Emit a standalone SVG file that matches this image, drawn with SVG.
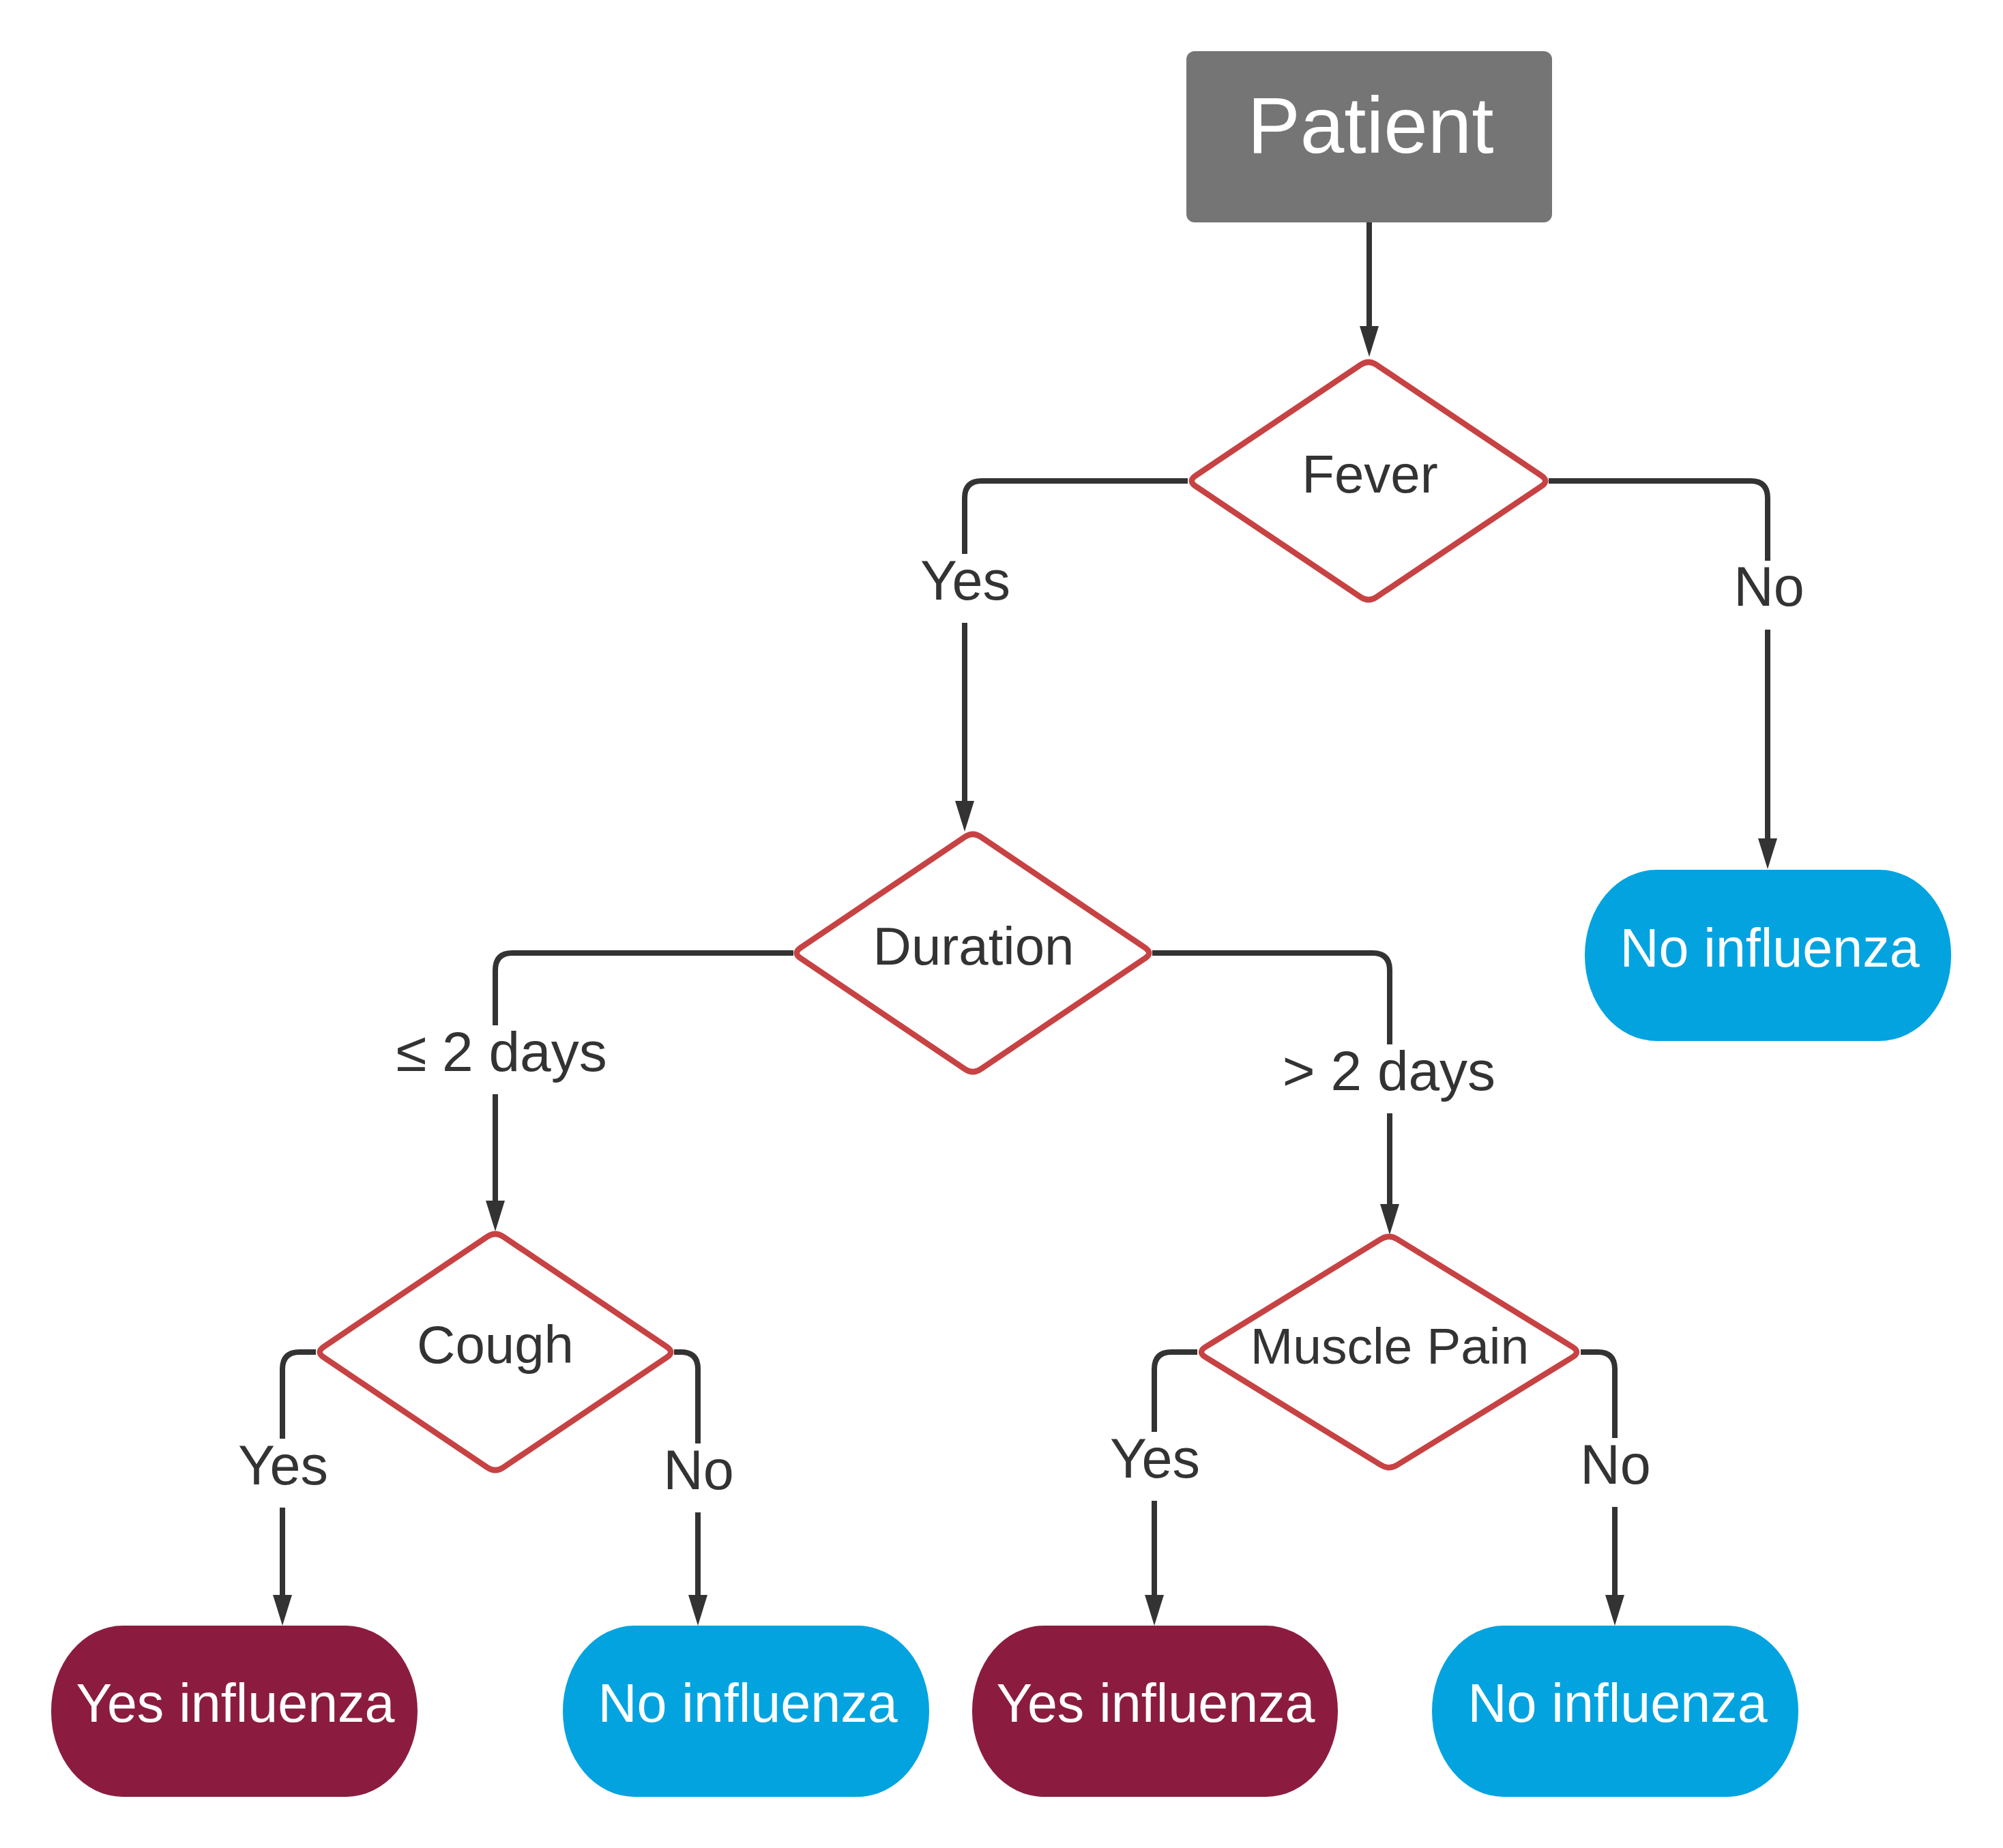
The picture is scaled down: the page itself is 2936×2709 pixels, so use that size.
<svg xmlns="http://www.w3.org/2000/svg" width="2936" height="2709" viewBox="0 0 2936 2709">
<style>
text{font-family:"Liberation Sans",Arial,sans-serif;text-anchor:middle}
.conn{fill:none;stroke:#333333;stroke-width:8;marker-end:url(#arrow)}
.lbl{font-size:81px;fill:#333333}
.bg{fill:#ffffff}
.dia{fill:#ffffff;stroke:#c74243;stroke-width:8.5;stroke-linejoin:round}
.dtxt{font-size:78px;fill:#333333}
.term{font-size:79px;fill:#ffffff}
.no{fill:#03a3e0}
.yes{fill:#8b1c40}
</style>
<defs>
<marker id="arrow" viewBox="0 -15 46 30" refX="5" refY="0" markerWidth="46" markerHeight="30" markerUnits="userSpaceOnUse" orient="auto">
<path d="M0,-14 L45,0 L0,14 Z" fill="#333333"/>
</marker>
</defs>
<rect width="2936" height="2709" fill="#ffffff"/>
<g id="connectors">
<path class="conn" d="M2007 326 V483"/>
<path class="conn" d="M1741 705 H1439 Q1414 705 1414 730 V1179"/>
<path class="conn" d="M2270 705 H2566 Q2591 705 2591 730 V1234"/>
<path class="conn" d="M1163 1397 H751 Q726 1397 726 1422 V1765"/>
<path class="conn" d="M1689 1397 H2012 Q2037 1397 2037 1422 V1770"/>
<path class="conn" d="M463 1982 H439 Q414 1982 414 2007 V2343"/>
<path class="conn" d="M988 1982 H998 Q1023 1982 1023 2007 V2343"/>
<path class="conn" d="M1755 1982 H1717 Q1692 1982 1692 2007 V2343"/>
<path class="conn" d="M2317 1982 H2342 Q2367 1982 2367 2007 V2343"/>
<rect class="bg" x="1340" y="812" width="150" height="101"/>
<text class="lbl" x="1415" y="879">Yes</text>
<rect class="bg" x="2530" y="822" width="124" height="101"/>
<text class="lbl" x="2593" y="888">No</text>
<rect class="bg" x="570" y="1503" width="330" height="101"/>
<text class="lbl" x="735" y="1570" style="font-size:82px">≤ 2 days</text>
<rect class="bg" x="1870" y="1531" width="334" height="101"/>
<text class="lbl" x="2036" y="1598" style="font-size:82px">&gt; 2 days</text>
<rect class="bg" x="340" y="2109" width="150" height="101"/>
<text class="lbl" x="415" y="2176">Yes</text>
<rect class="bg" x="962" y="2116" width="124" height="101"/>
<text class="lbl" x="1024" y="2183">No</text>
<rect class="bg" x="1617" y="2099" width="150" height="101"/>
<text class="lbl" x="1693" y="2166">Yes</text>
<rect class="bg" x="2306" y="2108" width="124" height="101"/>
<text class="lbl" x="2368" y="2175">No</text>
</g>
<g id="patient">
<rect x="1739" y="75" width="536" height="251" rx="12" ry="12" fill="#757575"/>
<text x="2009" y="224" font-size="116" fill="#ffffff">Patient</text>
</g>
<g id="fever">
<path class="dia" d="M1994.4 534.8 Q2006 527 2017.6 534.8 L2259.4 697.2 Q2271 705 2259.4 712.8 L2017.6 875.2 Q2006 883 1994.4 875.2 L1752.6 712.8 Q1741 705 1752.6 697.2 Z"/>
<text class="dtxt" x="2008" y="722">Fever</text>
</g>
<g id="duration">
<path class="dia" d="M1414.4 1226.8 Q1426 1219 1437.6 1226.8 L1678.4 1389.2 Q1690 1397 1678.4 1404.8 L1437.6 1567.2 Q1426 1575 1414.4 1567.2 L1173.6 1404.8 Q1162 1397 1173.6 1389.2 Z"/>
<text class="dtxt" x="1427" y="1414">Duration</text>
</g>
<g id="cough">
<path class="dia" d="M714.4 1812.8 Q726 1805 737.6 1812.8 L977.4 1974.2 Q989 1982 977.4 1989.8 L737.6 2151.2 Q726 2159 714.4 2151.2 L474.6 1989.8 Q463 1982 474.6 1974.2 Z"/>
<text class="dtxt" x="726" y="1998">Cough</text>
</g>
<g id="muscle-pain">
<path class="dia" d="M2024 1816.5 Q2036 1809 2048 1816.5 L2305 1974.5 Q2317 1982 2305 1989.5 L2048 2147.5 Q2036 2155 2024 2147.5 L1767 1989.5 Q1755 1982 1767 1974.5 Z"/>
<text class="dtxt" x="2037" y="1999" style="font-size:75px">Muscle Pain</text>
</g>
<g id="no-influenza-fever">
<rect class="no" x="2323" y="1275" width="537" height="251" rx="105" ry="125"/>
<text class="term" x="2594" y="1417">No influenza</text>
</g>
<g id="yes-influenza-cough">
<rect class="yes" x="75" y="2383" width="537" height="251" rx="105" ry="125"/>
<text class="term" x="345" y="2524">Yes influenza</text>
</g>
<g id="no-influenza-cough">
<rect class="no" x="825" y="2383" width="537" height="251" rx="105" ry="125"/>
<text class="term" x="1096" y="2524">No influenza</text>
</g>
<g id="yes-influenza-muscle">
<rect class="yes" x="1425" y="2383" width="536" height="251" rx="105" ry="125"/>
<text class="term" x="1694" y="2524">Yes influenza</text>
</g>
<g id="no-influenza-muscle">
<rect class="no" x="2099" y="2383" width="537" height="251" rx="105" ry="125"/>
<text class="term" x="2371" y="2524">No influenza</text>
</g>
</svg>
